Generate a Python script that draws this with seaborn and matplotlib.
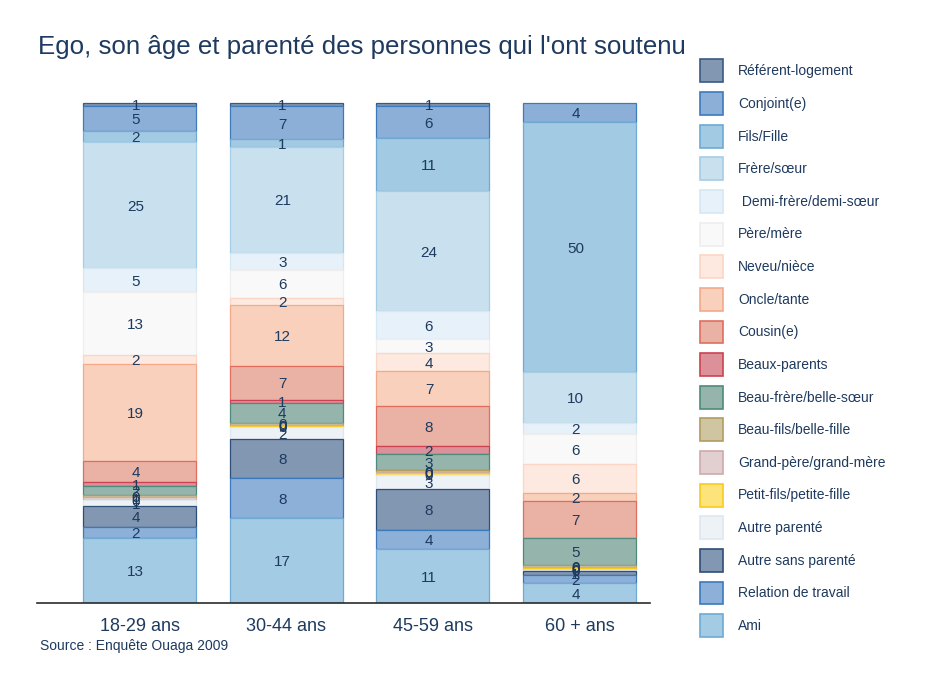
import numpy as np
import pandas as pd
import matplotlib
matplotlib.use("Agg")
import matplotlib.pyplot as plt
from matplotlib.patches import Patch
from matplotlib.transforms import offset_copy
import seaborn as sns

# Age groups of Ego
categories = ["18-29 ans", "30-44 ans", "45-59 ans", "60 + ans"]

# Share (%) of each kind of supporter, per age group
referent_logement = [0.6, 0.6, 0.6, 0.0]
conjoint = [5.0, 6.7, 6.4, 3.8]
fils_fille = [2.2, 1.4, 10.6, 50.0]
frere_soeur = [25.2, 21.2, 24.0, 10.2]
demi_frere = [4.8, 3.4, 5.6, 2.2]
pere_mere = [12.6, 5.6, 2.8, 6.0]
neveu_niece = [1.8, 1.6, 3.6, 5.8]
oncle_tante = [19.4, 12.0, 7.0, 1.6]
cousin = [4.2, 6.8, 8.0, 7.4]
beaux_parents = [0.8, 0.6, 1.6, 0.0]
beau_frere = [1.8, 4.0, 3.2, 5.4]
beau_fils = [0.3, 0.4, 0.4, 0.4]
grand_parent = [0.6, 0.2, 0.2, 0.2]
petit_fils = [0.1, 0.3, 0.4, 0.4]
autre_parente = [1.2, 2.4, 2.8, 0.2]
autre_sans_parente = [4.2, 7.8, 8.2, 0.8]
relation_travail = [2.2, 8.0, 3.8, 1.6]
ami = [13.0, 17.0, 10.8, 4.0]

series_names = [
    "Référent-logement", "Conjoint(e)", "Fils/Fille", "Frère/sœur",
    " Demi-frère/demi-sœur", "Père/mère", "Neveu/nièce", "Oncle/tante",
    "Cousin(e)", "Beaux-parents", "Beau-frère/belle-sœur",
    "Beau-fils/belle-fille", "Grand-père/grand-mère", "Petit-fils/petite-fille",
    "Autre parenté", "Autre sans parenté", "Relation de travail", "Ami",
]
series_values = [
    referent_logement, conjoint, fils_fille, frere_soeur, demi_frere,
    pere_mere, neveu_niece, oncle_tante, cousin, beaux_parents, beau_frere,
    beau_fils, grand_parent, petit_fils, autre_parente, autre_sans_parente,
    relation_travail, ami,
]

# (fill, edge) colours for each series
face_colors = [
    "#8297b1", "#8cafd7", "#a3cae3", "#c9e1ef", "#e7f1f9", "#f9f9f9",
    "#fde9df", "#f9d0bc", "#eab1a5", "#dc9099", "#95b5ac", "#d0c5a1",
    "#e2cfcf", "#fde37c", "#ecf2f5", "#8297b1", "#8db0d8", "#a3cbe4",
]
edge_colors = [
    "#3c5a80", "#3d7abb", "#6eaad4", "#a5cde5", "#d6e7f4", "#eeeeee",
    "#fbd6c4", "#f4a98a", "#df6e5f", "#cc4252", "#4e8b7a", "#b19d5e",
    "#cdaaaa", "#f7cb1c", "#dde8ee", "#2f4e78", "#3b79bd", "#6fa9d4",
]

text_color = "#1e3a5f"

sns.set_theme(style="white")
plt.rcParams["font.family"] = ["Liberation Sans", "DejaVu Sans"]

fig = plt.figure(figsize=(9.29, 6.77), dpi=100)
ax = fig.add_axes([37 / 929, 74 / 677, 613 / 929, 503 / 677])

# Value labels sit slightly left of and below each segment's centre
label_transform = offset_copy(ax.transData, fig=fig, x=-4, y=-1.8, units="dots")

# Stack from the top series down to "Ami" at the bottom
cats = np.array(categories)
stack = np.array(series_values, dtype=float)
bottoms_all = np.zeros_like(stack)
running = np.zeros(len(categories))
for i in range(len(series_names) - 1, -1, -1):
    bottoms_all[i] = running
    running = running + stack[i]

for i, name in enumerate(series_names):
    vals = stack[i]
    mask = vals > 0
    sns.barplot(
        x=cats[mask], y=vals[mask], order=categories, ax=ax,
        color=face_colors[i], saturation=1,
        bottom=bottoms_all[i][mask], width=0.77,
        facecolor=face_colors[i], edgecolor=edge_colors[i], linewidth=0.9,
        errorbar=None,
    )
    for j in np.where(mask)[0]:
        ax.text(j, bottoms_all[i][j] + vals[j] / 2, f"{vals[j]:.0f}",
                ha="center", va="center", fontsize=11, color=text_color,
                transform=label_transform)

ax.set_xlim(-0.70, 3.48)
ax.set_ylim(0, 100.6)
ax.set_xlabel("")
ax.set_ylabel("")
ax.set_yticks([])
for side in ["top", "right", "left"]:
    ax.spines[side].set_visible(False)
ax.spines["bottom"].set_color("#2b2b2b")
ax.spines["bottom"].set_linewidth(1.2)
ax.tick_params(axis="x", length=0, pad=10.5, labelsize=13, labelcolor=text_color)

handles = [Patch(facecolor=fc, edgecolor=ec, linewidth=1.2)
           for fc, ec in zip(face_colors, edge_colors)]
fig.legend(
    handles, series_names, loc="upper left",
    bbox_to_anchor=(700 / 929, 1 - 59.5 / 677), bbox_transform=fig.transFigure,
    frameon=False, fontsize=10, labelcolor=text_color,
    handlelength=1.65, handleheight=2.16, handletextpad=1.08,
    labelspacing=0.70, borderpad=0, borderaxespad=0,
)

fig.text(38 / 929, 1 - 47 / 677,
         "Ego, son âge et parenté des personnes qui l'ont soutenu",
         fontsize=18.6, color=text_color, ha="left", va="center")
fig.text(40 / 929, 1 - 646 / 677, "Source : Enquête Ouaga 2009",
         fontsize=10, color=text_color, ha="left", va="center")

fig.savefig("out.png", dpi=100, facecolor="white")
